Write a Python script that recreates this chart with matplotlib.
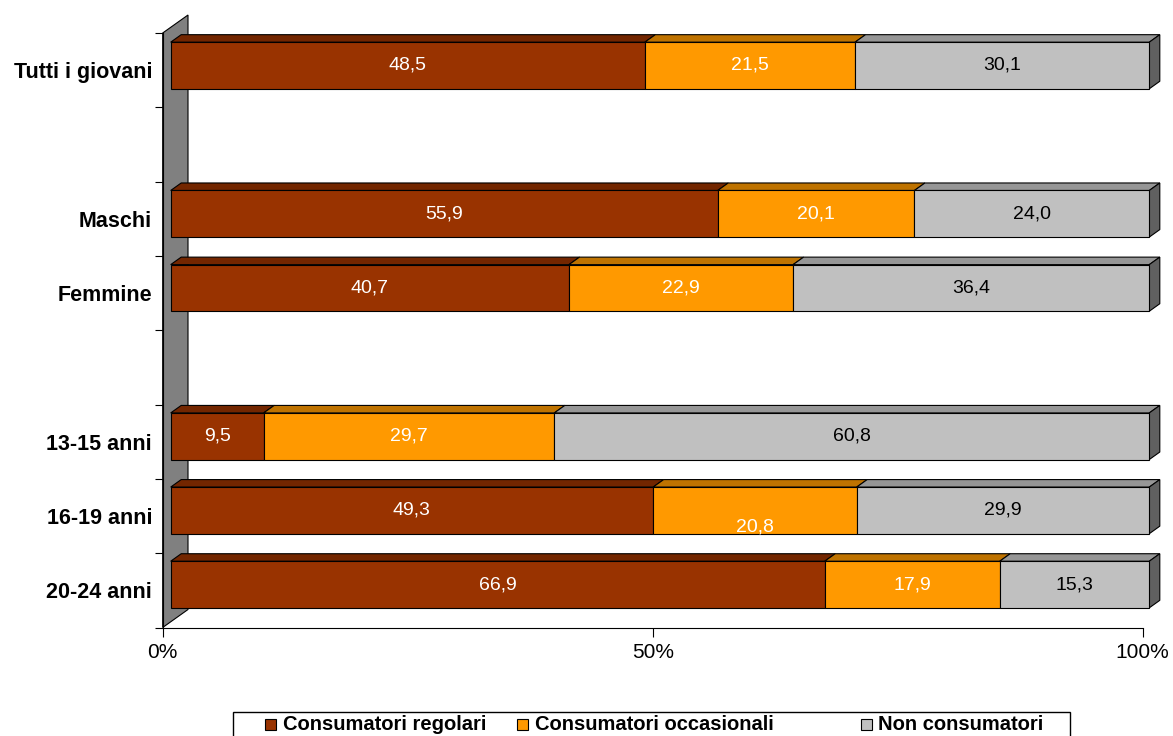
import numpy as np
import matplotlib
matplotlib.use('Agg')
import matplotlib.pyplot as plt
from matplotlib.patches import Polygon, Rectangle
from matplotlib.transforms import offset_copy

# ---------------- data ----------------
categories = ['Tutti i giovani', '', 'Maschi', 'Femmine', '',
              '13-15 anni', '16-19 anni', '20-24 anni']
regolari = [48.5, np.nan, 55.9, 40.7, np.nan, 9.5, 49.3, 66.9]
occasionali = [21.5, np.nan, 20.1, 22.9, np.nan, 29.7, 20.8, 17.9]
non_consumatori = [30.1, np.nan, 24.0, 36.4, np.nan, 60.8, 29.9, 15.3]
series_names = ['Consumatori regolari', 'Consumatori occasionali', 'Non consumatori']
x_ticks = [0, 50, 100]
x_tick_labels = ['0%', '50%', '100%']

# ---------------- style ----------------
front_colors = ['#993300', '#FF9900', '#C0C0C0']
top_colors = ['#732600', '#BF7300', '#969696']
side_color = '#606060'
label_colors = ['white', 'white', 'black']

plt.rcParams['font.family'] = ['Liberation Sans', 'DejaVu Sans']

W, H = 1173, 736
fig = plt.figure(figsize=(W / 100, H / 100), dpi=100)


def fx(p):
    return p / W


def fy(p):
    return 1 - p / H


n = len(categories)

# ---------- frame axes: wall + axis lines ----------
ax2 = fig.add_axes([fx(162.7), fy(627.5), (1142.7 - 162.7) / W, (627.5 - 33) / H])
ax2.set_xlim(0, 100)
ax2.set_ylim(n, 0)
ax2.set_facecolor('none')
ax2.set_zorder(1)
for s in ['top', 'right']:
    ax2.spines[s].set_visible(False)
for s in ['left', 'bottom']:
    ax2.spines[s].set_color('black')
    ax2.spines[s].set_linewidth(0.8)

# wall (depth in pixels converted to data units)
wall_dx = 25.3 / 980 * 100
wall_dy = 18 / ((627.5 - 33) / n)
wall = Polygon([(0, 0), (wall_dx, -wall_dy), (wall_dx, n - wall_dy), (0, n)],
               closed=True, facecolor='#808080', edgecolor='black', lw=0.8,
               clip_on=False, zorder=0.5)
ax2.add_patch(wall)

ax2.set_yticks(np.arange(n + 1))
ax2.set_yticklabels([])
ax2.set_yticks(np.arange(n) + 0.5, minor=True)
ax2.set_yticklabels(categories, minor=True, fontsize=15.5, fontweight='bold')
ax2.tick_params(axis='y', which='major', length=5.8, width=0.8, direction='out')
ax2.tick_params(axis='y', which='minor', length=0, pad=7.7)

ax2.set_xticks(x_ticks)
ax2.set_xticklabels(x_tick_labels, fontsize=15)
ax2.tick_params(axis='x', length=6.5, width=0.8, direction='out', pad=4.5)

# ---------- bars axes ----------
ax = fig.add_axes([fx(170.7), fy(621.6), 978.6 / W, 593.2 / H])
ax.set_xlim(0, 100)
ax.set_ylim(n - 0.5, -0.5)
ax.axis('off')
ax.set_facecolor('none')
ax.set_zorder(2)

bar_h = 46.6 / 74.15
dx = 10.5 / 978.6 * 100
dy = 7.5 / 74.15

series = [np.array(regolari), np.array(occasionali), np.array(non_consumatori)]
totals = series[0] + series[1] + series[2]

label_offsets = {(6, 1): -17}  # pixel offset of a data label (as in the original)

for i in range(n):
    if np.isnan(totals[i]):
        continue
    left = 0.0
    top = i - bar_h / 2
    for k, vals in enumerate(series):
        w = vals[i] / totals[i] * 100
        # top face
        ax.add_patch(Polygon([(left, top), (left + w, top), (left + w + dx, top - dy),
                              (left + dx, top - dy)], closed=True,
                             facecolor=top_colors[k], edgecolor='black', lw=0.8,
                             clip_on=False, zorder=2))
        # front face
        ax.barh(i, w, left=left, height=bar_h, color=front_colors[k],
                edgecolor='black', linewidth=0.8, zorder=3, clip_on=False)
        # label
        tr = offset_copy(ax.transData, fig=fig, x=0, y=label_offsets.get((i, k), 0),
                         units='dots')
        ax.text(left + w / 2, i, f"{vals[i]:.1f}".replace('.', ','), transform=tr,
                ha='center', va='center', fontsize=14, color=label_colors[k], zorder=5)
        left += w
    # right side face of last segment
    ax.add_patch(Polygon([(left, top), (left + dx, top - dy), (left + dx, top + bar_h - dy),
                          (left, top + bar_h)], closed=True, facecolor=side_color,
                         edgecolor='black', lw=0.8, clip_on=False, zorder=2))

# ---------- legend (drawn manually to match the original layout) ----------
fig.patches.append(Rectangle((fx(233), fy(741)), (1070 - 233) / W, 29 / H,
                             transform=fig.transFigure, fill=False,
                             edgecolor='black', lw=1))
sq_x = [265, 517, 861]
tx_x = [283, 535, 878]
for k, name in enumerate(series_names):
    fig.patches.append(Rectangle((fx(sq_x[k]), fy(730)), 11 / W, 11 / H,
                                 transform=fig.transFigure, facecolor=front_colors[k],
                                 edgecolor='black', lw=0.8))
    fig.text(fx(tx_x[k]), fy(725), name, ha='left', va='center', fontsize=14.5,
             fontweight='bold')

fig.savefig('out.png', dpi=100)
